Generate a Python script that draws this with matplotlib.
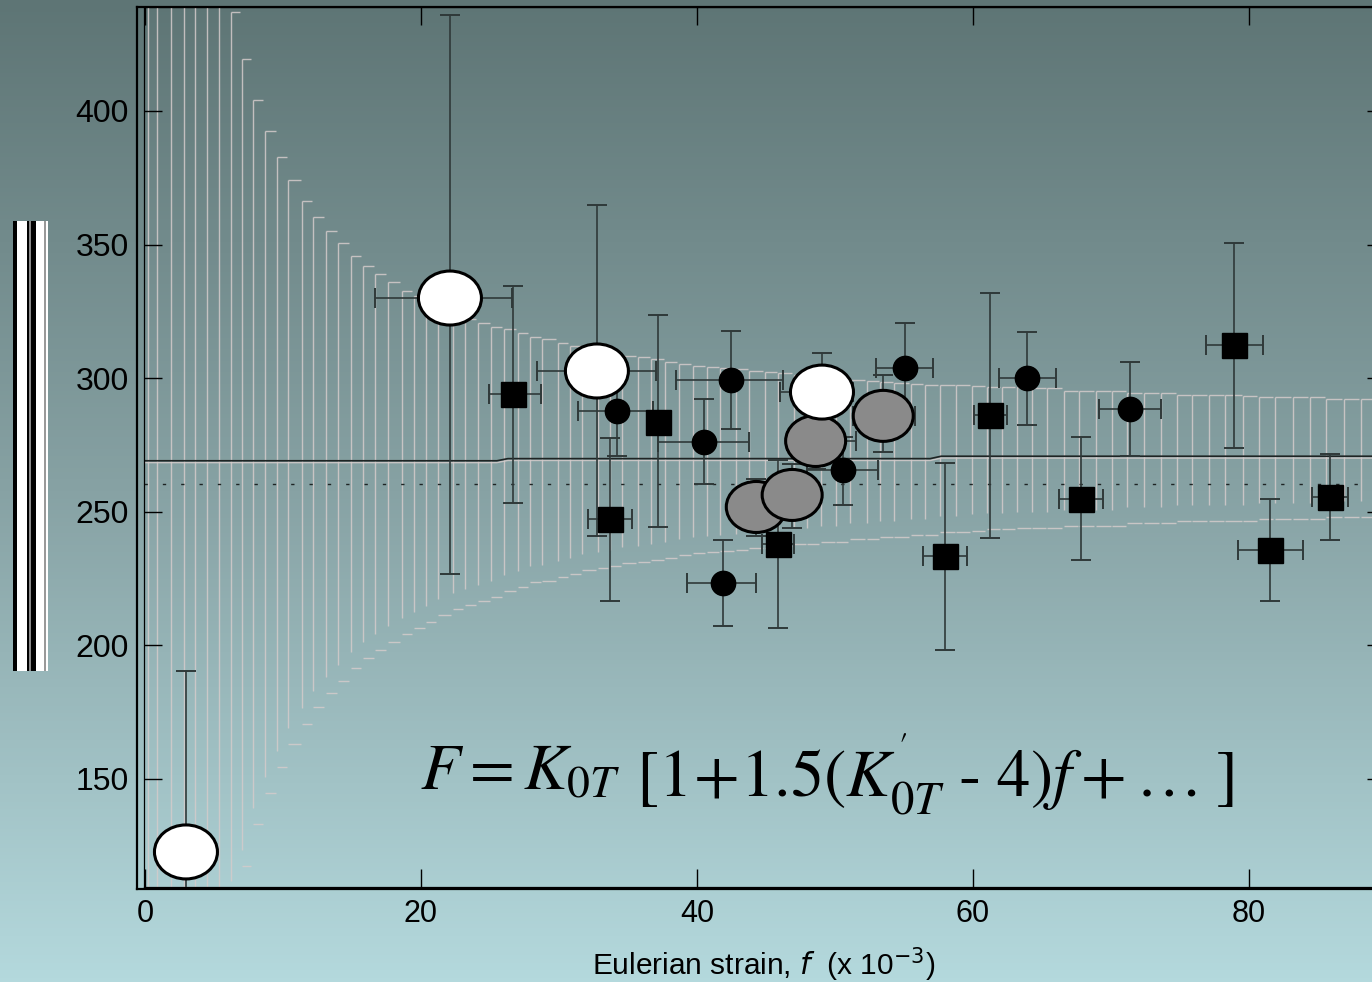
import numpy as np
import matplotlib
matplotlib.use('Agg')
import matplotlib.pyplot as plt
from matplotlib.patches import Ellipse, Rectangle
from matplotlib.collections import LineCollection
from matplotlib.colors import LinearSegmentedColormap

plt.rcParams['font.family'] = ['Liberation Sans', 'DejaVu Sans']
plt.rcParams['mathtext.fontset'] = 'stix'

W, H = 1372, 982

# ---- confidence band ----
band_x = [0.2, 0.9, 1.9, 2.8, 3.6, 4.5, 5.4, 6.2, 7.0, 7.8, 8.7, 9.6, 10.4, 11.4, 12.2, 13.1, 14.0,
          14.9, 15.8, 16.7, 17.6, 18.6, 19.5, 20.4, 21.2, 22.3, 23.2, 24.1, 25.1, 26.0, 27.0, 27.9,
          28.8, 29.9, 30.8, 31.7, 32.8, 33.7, 34.6, 35.7, 36.7, 37.7, 38.7, 39.7, 40.7, 41.7, 42.8,
          43.8, 44.9, 45.9, 47.0, 48.0, 49.0, 50.1, 51.1, 52.3, 53.3, 54.3, 55.5, 56.5, 57.6, 58.8,
          59.9, 61.0, 62.1, 63.2, 64.3, 65.4, 66.6, 67.7, 68.9, 70.1, 71.2, 72.4, 73.6, 74.8, 75.9,
          77.1, 78.3, 79.6, 80.7, 81.9, 83.2, 84.4, 85.6, 86.9, 88.1]
band_hi = [620, 580, 540, 505, 480, 460, 447, 437.0, 419.5, 404.1, 392.5, 382.8, 374.2, 366.3,
           360.3, 355.1, 350.6, 345.7, 342.0, 339.0, 336.0, 332.6, 330.8, 328.1, 325.5, 323.7,
           322.2, 320.7, 319.2, 318.4, 316.9, 315.4, 314.7, 313.2, 312.1, 311.3, 310.6, 309.4,
           308.3, 307.9, 307.2, 306.1, 305.3, 304.6, 304.2, 303.8, 303.4, 302.7, 302.3, 301.9,
           301.2, 300.8, 300.4, 299.7, 299.3, 298.9, 298.6, 298.2, 297.8, 297.5, 297.5, 297.5,
           297.1, 296.7, 296.7, 296.7, 296.3, 296.3, 295.2, 295.2, 295.2, 295.2, 294.5, 294.5,
           294.5, 293.7, 293.7, 293.7, 293.7, 293.3, 293.0, 293.0, 293.0, 293.0, 292.2, 292.2, 292.2]
band_lo = [40, 50, 60, 70, 80, 90, 98, 106, 117.6, 133.1, 144.8, 154.5, 163.1, 170.6, 177.0,
           182.2, 186.7, 191.5, 195.3, 198.3, 201.3, 204.3, 206.5, 208.8, 211.4, 213.6, 215.1,
           216.6, 218.1, 220.3, 221.8, 223.7, 224.1, 225.6, 226.7, 228.2, 229.0, 229.7, 230.8,
           231.2, 232.0, 232.7, 233.8, 234.6, 234.9, 235.3, 235.7, 236.5, 236.5, 237.2, 238.0,
           238.0, 238.7, 238.7, 239.8, 239.8, 240.6, 240.6, 241.3, 241.3, 242.4, 242.4, 243.0,
           243.6, 243.6, 244.0, 244.0, 244.0, 244.7, 244.7, 244.7, 244.7, 245.8, 245.8, 245.8,
           246.6, 246.6, 246.6, 246.6, 246.6, 247.3, 247.3, 247.3, 247.3, 248.1, 248.1, 248.1]

# weighted mean (solid) and reference value (dotted)
mean_x = [-0.1, 25.5, 26.3, 56.9, 57.7, 90.0]
mean_y = [269.1, 269.1, 269.9, 269.9, 270.8, 270.8]
ref_y = 260.4

# ---- data points: x, y, y-range, x-range ----
white_x = [2.97, 22.1, 32.75, 49.06]
white_y = [122.7, 330.0, 302.7, 294.8]
white_ylo = [60.0, 226.7, 240.9, 280.0]
white_yhi = [190.4, 435.9, 364.8, 309.4]
white_xlo = [2.97, 16.7, 28.4, 46.0]
white_xhi = [2.97, 26.6, 37.0, 51.3]

gray_x = [44.3, 46.9, 48.6, 53.5]
gray_y = [251.8, 256.3, 276.5, 285.9]
gray_ylo = [241.0, 244.0, 266.0, 272.4]
gray_yhi = [262.4, 268.0, 288.0, 301.2]
gray_xlo = [42.6, 45.2, 46.5, 51.3]
gray_xhi = [46.0, 48.6, 51.5, 55.8]

circ_x = [34.2, 40.5, 41.9, 42.5, 50.6, 55.1, 63.9, 71.4]
circ_y = [287.7, 276.1, 223.4, 299.3, 265.6, 303.8, 300.1, 288.5]
circ_ylo = [270.9, 260.4, 207.3, 281.0, 252.5, 287.0, 282.5, 270.9]
circ_yhi = [300.0, 292.2, 239.4, 317.7, 278.0, 320.7, 317.3, 306.1]
circ_xlo = [31.4, 37.2, 39.3, 38.5, 48.0, 53.0, 61.9, 69.1]
circ_xhi = [36.8, 43.8, 44.3, 46.2, 53.1, 57.1, 66.0, 73.6]

sq_x = [26.7, 33.7, 37.2, 45.9, 58.0, 61.2, 67.8, 78.9, 81.5, 85.9]
sq_y = [294.1, 247.3, 283.6, 238.0, 233.5, 286.2, 254.8, 312.4, 235.7, 255.5]
sq_ylo = [253.3, 216.6, 244.3, 206.5, 198.3, 240.2, 232.0, 273.9, 216.6, 239.4]
sq_yhi = [334.5, 277.6, 323.7, 269.4, 268.3, 331.9, 278.0, 350.6, 254.8, 271.6]
sq_xlo = [24.9, 32.1, 36.4, 44.7, 56.4, 60.1, 66.2, 76.9, 79.2, 84.6]
sq_xhi = [28.7, 35.3, 38.0, 47.0, 59.6, 62.5, 69.4, 81.0, 83.9, 87.2]

x_ticks = [0, 20, 40, 60, 80]
y_ticks = [150, 200, 250, 300, 350, 400]

fig = plt.figure(figsize=(W / 100, H / 100), dpi=100)

# background gradient
bg = fig.add_axes([0, 0, 1, 1], zorder=-10)
bg_cmap = LinearSegmentedColormap.from_list('bg', ['#5e7575', '#87a2a4', '#b4d9dd'])
bg.imshow(np.linspace(0, 1, 256).reshape(-1, 1), aspect='auto', cmap=bg_cmap,
          extent=[0, 1, 0, 1])
bg.axis('off')

# left barcode strip
for x0, x1, c in [(13, 17, 'black'), (17, 27, 'white'), (27, 28.5, 'black'),
                  (28.5, 30.5, '#8a8a8a'), (30.5, 36, 'black'), (36, 44, 'white'),
                  (44, 45.5, '#999999'), (45.5, 48, 'white')]:
    fig.add_artist(Rectangle((x0 / W, 1 - 671 / H), (x1 - x0) / W, (671 - 221) / H,
                             transform=fig.transFigure, color=c, lw=0))

# outer frame
outer = fig.add_axes([137 / W, (H - 889) / H, (1385 - 137) / W, (889 - 7) / H])
outer.patch.set_alpha(0)
outer.set_xticks([])
outer.set_yticks([])
for s in outer.spines.values():
    s.set_linewidth(1.6)

ax = fig.add_axes([144 / W, (H - 887) / H, (1385 - 144) / W, (887 - 7) / H])
ax.patch.set_alpha(0)
ax.set_xlim(-0.07, 89.86)
ax.set_ylim(109.58, 438.92)
for s in ax.spines.values():
    s.set_linewidth(0.9)

# band: vertical strokes with a short cap at each end
bx = np.array(band_x)
step = np.append(np.diff(bx), 1.2)
vert = [[(x, lo + 6.0), (x, hi)] for x, lo, hi in zip(band_x, band_lo, band_hi)]
caps_hi = [[(x, hi), (x + d - 0.12, hi)] for x, d, hi in zip(band_x, step, band_hi)]
caps_lo = [[(x, lo), (x + d - 0.12, lo)] for x, d, lo in zip(band_x, step, band_lo)]
band_col = '#d4cbcb'
ax.add_collection(LineCollection(vert + caps_hi + caps_lo, colors=band_col, linewidths=1.0,
                                 alpha=0.85, zorder=1))
ax.plot(mean_x, np.array(mean_y) - 0.7, color=band_col, lw=1.0, alpha=0.85, zorder=1)
ax.plot(mean_x, mean_y, color='#1e2424', lw=1.2, zorder=2)
ax.axhline(ref_y, color='#1e2424', lw=1.0, ls=(0, (2.4, 10.8)), zorder=2)

err_kw = dict(fmt='none', ecolor='#2f3939', elinewidth=1.2, capsize=7, capthick=1.4, zorder=3)


def bars(xs, ys, ylo, yhi, xlo, xhi):
    xs, ys = np.array(xs), np.array(ys)
    ax.errorbar(xs, ys, yerr=[ys - np.array(ylo), np.array(yhi) - ys],
                xerr=[xs - np.array(xlo), np.array(xhi) - xs], **err_kw)


bars(white_x, white_y, white_ylo, white_yhi, white_xlo, white_xhi)
bars(gray_x, gray_y, gray_ylo, gray_yhi, gray_xlo, gray_xhi)
bars(circ_x, circ_y, circ_ylo, circ_yhi, circ_xlo, circ_xhi)
bars(sq_x, sq_y, sq_ylo, sq_yhi, sq_xlo, sq_xhi)

# pixel -> data size for the ellipses
sx = (1385 - 144) / (89.86 + 0.07)
sy = (887 - 7) / (438.92 - 109.58)
for x, y in zip(gray_x, gray_y):
    ax.add_patch(Ellipse((x, y), 60 / sx, 51 / sy, facecolor='#8a8a8a', edgecolor='black',
                         lw=2.2, zorder=4))
for x, y in zip(white_x, white_y):
    ax.add_patch(Ellipse((x, y), 63 / sx, 54 / sy, facecolor='white', edgecolor='black',
                         lw=2.2, zorder=4))
ax.plot(circ_x, circ_y, 'o', color='black', ms=17.5, zorder=5)
ax.plot(sq_x, sq_y, 's', color='black', ms=18, zorder=5)

ax.set_xticks(x_ticks)
ax.set_yticks(y_ticks)
ax.tick_params(direction='in', length=13, width=1.0, top=True, right=True, labelsize=22,
               color='black')
ax.tick_params(axis='y', pad=11, labelsize=23)
ax.tick_params(axis='x', pad=9)

# formula
ax.text(19.9, 145.9, r'$F = K_{0T}$', fontsize=47, ha='left', va='baseline', zorder=6)
ax.text(35.6, 143.3, r"$[1\!+\!1.5(K_{0T}^{'}\ \text{-}\ 4)f+\ldots\;]$", fontsize=48,
        ha='left', va='baseline', zorder=6)

fig.text(764 / W, 1 - 965 / H, r'Eulerian strain, $\mathit{f}$  (x 10$^{\mathsf{-3}}$)',
         fontsize=21.5, ha='center', va='center', math_fontfamily='dejavusans')

fig.savefig('out.png', dpi=100)
